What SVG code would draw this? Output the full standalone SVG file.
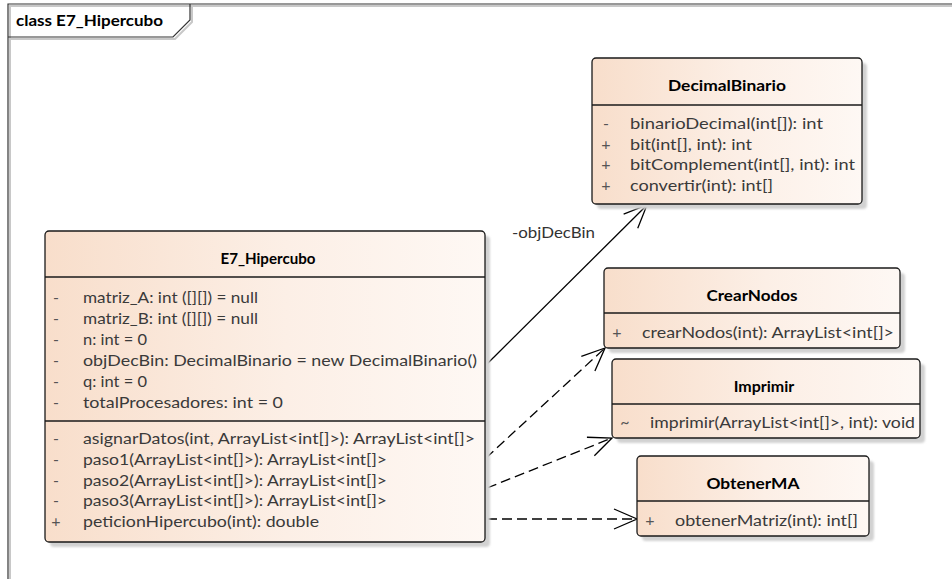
<svg xmlns="http://www.w3.org/2000/svg" width="952" height="579" viewBox="0 0 952 579">
  <defs>
    <linearGradient id="classFill" x1="0" y1="0" x2="1" y2="0">
      <stop offset="0" stop-color="#F8DECB"/>
      <stop offset="0.55" stop-color="#FCEFE6"/>
      <stop offset="1" stop-color="#FEF8F4"/>
    </linearGradient>
    <filter id="soft" x="-5%" y="-5%" width="110%" height="110%">
      <feGaussianBlur stdDeviation="1.2"/>
    </filter>
    <marker id="openArrow" viewBox="-25 -12 27 24" refX="0" refY="0" markerWidth="27" markerHeight="24" markerUnits="userSpaceOnUse" orient="auto" overflow="visible">
      <path d="M-23,-10 L0,0 L-23,10" fill="none" stroke="#000" stroke-width="1.3" stroke-dasharray="none"/>
    </marker>
  </defs>
  <style>
    .frame { fill: none; stroke: #333; stroke-width: 1.2; }
    .frameShadow { fill: none; stroke: #c8c8c8; stroke-width: 2; }
    .frameLabel { font-family: Lato, "Liberation Sans", sans-serif; font-size: 16px; font-weight: bold; fill: #000; }
    .shadow { fill: #d2d2d2; filter: url(#soft); }
    .box { fill: url(#classFill); stroke: #1a1a1a; stroke-width: 1.3; }
    .divider { stroke: #1a1a1a; stroke-width: 1.3; }
    .title { font-family: Lato, "Liberation Sans", sans-serif; font-size: 16px; font-weight: bold; fill: #000; text-anchor: middle; }
    .member { font-family: Lato, "Liberation Sans", sans-serif; font-size: 16px; fill: #3a3a3a; }
    .vis { font-family: Lato, "Liberation Sans", sans-serif; font-size: 16px; fill: #555; text-anchor: middle; }
    .assoc { fill: none; stroke: #000; stroke-width: 1.3; }
    .dep { fill: none; stroke: #000; stroke-width: 1.3; stroke-dasharray: 10 5; }
    .role { font-family: Lato, "Liberation Sans", sans-serif; font-size: 16px; fill: #333; }
  </style>

  <rect width="952" height="579" fill="#fff"/>

  <!-- diagram frame with name tab -->
  <g id="frame">
    <path class="frameShadow" d="M10,579 V6 H952"/>
    <path class="frameShadow" d="M10,39 H175 L192,22 V6"/>
    <path class="frame" d="M8,579 V4 H952"/>
    <path class="frame" d="M8,37 H173 L190,20 V4"/>
    <text class="frameLabel" x="16" y="26" textLength="147" lengthAdjust="spacingAndGlyphs">class E7_Hipercubo</text>
  </g>

  <!-- connectors -->
  <g id="connectors">
    <path class="assoc" d="M486,365 L647,205" marker-end="url(#openArrow)"/>
    <text class="role" x="512" y="238" textLength="83" lengthAdjust="spacingAndGlyphs">-objDecBin</text>
    <path class="dep" d="M486,458 L605,348" marker-end="url(#openArrow)"/>
    <path class="dep" d="M487,488 L612,438" marker-end="url(#openArrow)"/>
    <path class="dep" d="M487,519 L637,519" marker-end="url(#openArrow)"/>
  </g>

  <g id="DecimalBinario">
    <rect class="shadow" x="597" y="63" width="270" height="146" rx="4"/>
    <rect class="box" x="592" y="58" width="270" height="146" rx="4"/>
    <line class="divider" x1="592" y1="105" x2="862" y2="105"/>
    <text class="title" x="727" y="91" textLength="118" lengthAdjust="spacingAndGlyphs">DecimalBinario</text>
    <text class="vis" x="606" y="129">-</text>
    <text class="member" x="630" y="129" textLength="193" lengthAdjust="spacingAndGlyphs">binarioDecimal(int[]): int</text>
    <text class="vis" x="606" y="149.5">+</text>
    <text class="member" x="630" y="149.5" textLength="122" lengthAdjust="spacingAndGlyphs">bit(int[], int): int</text>
    <text class="vis" x="606" y="170">+</text>
    <text class="member" x="630" y="170" textLength="225" lengthAdjust="spacingAndGlyphs">bitComplement(int[], int): int</text>
    <text class="vis" x="606" y="190.5">+</text>
    <text class="member" x="630" y="190.5" textLength="143" lengthAdjust="spacingAndGlyphs">convertir(int): int[]</text>
  </g>

  <g id="E7_Hipercubo">
    <rect class="shadow" x="50" y="236" width="440" height="311" rx="4"/>
    <rect class="box" x="45" y="231" width="440" height="311" rx="4"/>
    <line class="divider" x1="45" y1="277" x2="485" y2="277"/>
    <line class="divider" x1="45" y1="421" x2="485" y2="421"/>
    <text class="title" x="268" y="264" textLength="95" lengthAdjust="spacingAndGlyphs">E7_Hipercubo</text>
    <text class="vis" x="56" y="303">-</text>
    <text class="member" x="83" y="303" textLength="175" lengthAdjust="spacingAndGlyphs">matriz_A: int ([][]) = null</text>
    <text class="vis" x="56" y="324">-</text>
    <text class="member" x="83" y="324" textLength="175" lengthAdjust="spacingAndGlyphs">matriz_B: int ([][]) = null</text>
    <text class="vis" x="56" y="345">-</text>
    <text class="member" x="83" y="345" textLength="64" lengthAdjust="spacingAndGlyphs">n: int = 0</text>
    <text class="vis" x="56" y="366">-</text>
    <text class="member" x="83" y="366" textLength="394" lengthAdjust="spacingAndGlyphs">objDecBin: DecimalBinario = new DecimalBinario()</text>
    <text class="vis" x="56" y="387">-</text>
    <text class="member" x="83" y="387" textLength="64" lengthAdjust="spacingAndGlyphs">q: int = 0</text>
    <text class="vis" x="56" y="408">-</text>
    <text class="member" x="83" y="408" textLength="200" lengthAdjust="spacingAndGlyphs">totalProcesadores: int = 0</text>
    <text class="vis" x="56" y="444">-</text>
    <text class="member" x="83" y="444" textLength="392" lengthAdjust="spacingAndGlyphs">asignarDatos(int, ArrayList&lt;int[]&gt;): ArrayList&lt;int[]&gt;</text>
    <text class="vis" x="56" y="464.5">-</text>
    <text class="member" x="83" y="464.5" textLength="304" lengthAdjust="spacingAndGlyphs">paso1(ArrayList&lt;int[]&gt;): ArrayList&lt;int[]&gt;</text>
    <text class="vis" x="56" y="485.5">-</text>
    <text class="member" x="83" y="485.5" textLength="304" lengthAdjust="spacingAndGlyphs">paso2(ArrayList&lt;int[]&gt;): ArrayList&lt;int[]&gt;</text>
    <text class="vis" x="56" y="506">-</text>
    <text class="member" x="83" y="506" textLength="304" lengthAdjust="spacingAndGlyphs">paso3(ArrayList&lt;int[]&gt;): ArrayList&lt;int[]&gt;</text>
    <text class="vis" x="56" y="526.5">+</text>
    <text class="member" x="83" y="526.5" textLength="236" lengthAdjust="spacingAndGlyphs">peticionHipercubo(int): double</text>
  </g>

  <g id="CrearNodos">
    <rect class="shadow" x="609" y="273" width="296" height="80" rx="4"/>
    <rect class="box" x="604" y="268" width="296" height="80" rx="4"/>
    <line class="divider" x1="604" y1="313" x2="900" y2="313"/>
    <text class="title" x="752" y="301" textLength="91" lengthAdjust="spacingAndGlyphs">CrearNodos</text>
    <text class="vis" x="617" y="338">+</text>
    <text class="member" x="642" y="338" textLength="252" lengthAdjust="spacingAndGlyphs">crearNodos(int): ArrayList&lt;int[]&gt;</text>
  </g>

  <g id="Imprimir">
    <rect class="shadow" x="617" y="364" width="308" height="79" rx="4"/>
    <rect class="box" x="612" y="359" width="308" height="79" rx="4"/>
    <line class="divider" x1="612" y1="404" x2="920" y2="404"/>
    <text class="title" x="764" y="392">Imprimir</text>
    <text class="vis" x="625" y="428">~</text>
    <text class="member" x="650" y="428" textLength="265" lengthAdjust="spacingAndGlyphs">imprimir(ArrayList&lt;int[]&gt;, int): void</text>
  </g>

  <g id="ObtenerMA">
    <rect class="shadow" x="642" y="461" width="232" height="80" rx="4"/>
    <rect class="box" x="637" y="456" width="232" height="80" rx="4"/>
    <line class="divider" x1="637" y1="501" x2="869" y2="501"/>
    <text class="title" x="753" y="489" textLength="93" lengthAdjust="spacingAndGlyphs">ObtenerMA</text>
    <text class="vis" x="650" y="526">+</text>
    <text class="member" x="675" y="526" textLength="183" lengthAdjust="spacingAndGlyphs">obtenerMatriz(int): int[]</text>
  </g>
</svg>
